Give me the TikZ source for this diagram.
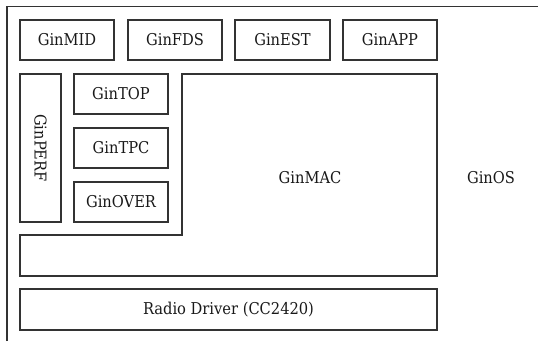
\documentclass[tikz,border=0pt]{standalone}
\usepackage{fontspec}
\setmainfont{DejaVu Serif Condensed}
\begin{document}
\begin{tikzpicture}[x=1pt,y=-1pt,
  box/.style={draw=black!80, line width=1.1pt},
  lbl/.style={font=\fontsize{16.3}{19}\selectfont, text=black!90, inner sep=0pt}]
\useasboundingbox (0,0) rectangle (538,341);
% outer frame (partially visible)
\draw[box] (7,341) -- (7,6.5) -- (538,6.5);
% top row
\draw[box] (20,20) rectangle (114,60);
\node[lbl] (mid) at (67,40) {GinMID};
\draw[box] (128,20) rectangle (222,60);
\node[lbl] (fds) at (175,40) {GinFDS};
\draw[box] (235,20) rectangle (330,60);
\node[lbl] (est) at (282.5,40) {GinEST};
\draw[box] (343,20) rectangle (437,60);
\node[lbl] (app) at (390,40) {GinAPP};
% GinPERF
\draw[box] (20,74) rectangle (61,222);
\node[lbl, rotate=-90] (perf) at (40.5,148) {GinPERF};
% left stack
\draw[box] (74,74) rectangle (168,114);
\node[lbl] (top) at (121,94) {GinTOP};
\draw[box] (74,128) rectangle (168,168);
\node[lbl] (tpc) at (121,148) {GinTPC};
\draw[box] (74,182) rectangle (168,222);
\node[lbl] (over) at (121,202) {GinOVER};
% GinMAC L-shape
\draw[box] (182,74) -- (437,74) -- (437,276) -- (20,276) -- (20,235) -- (182,235) -- cycle;
\node[lbl] (mac) at (310,178) {GinMAC};
% Radio driver
\draw[box] (20,289) rectangle (437,330);
\node[lbl] (radio) at (228.5,309.5) {Radio Driver (CC2420)};
% GinOS label
\node[lbl] (os) at (491,178) {GinOS};
\end{tikzpicture}
\end{document}
